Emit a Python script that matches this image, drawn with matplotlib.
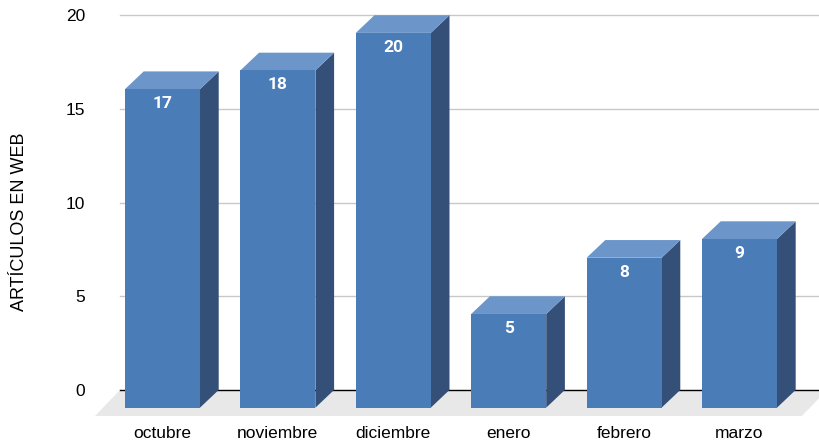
import matplotlib
matplotlib.use("Agg")
import matplotlib.pyplot as plt

# data
meses = ['octubre', 'noviembre', 'diciembre', 'enero', 'febrero', 'marzo']
articulos = [17, 18, 20, 5, 8, 9]
yticks = [0, 5, 10, 15, 20]

# colours
c_front = '#4a7cb8'
c_top = '#6c96ca'
c_side = '#345078'
c_floor = '#e8e8e8'
c_grid = '#c8c8c8'

# fake 3d depth (in data units)
bw = 0.65          # bar width
dx = 0.162         # depth offset x
dy = 0.945         # depth offset y
floor_y = -1.39

plt.rcParams['font.family'] = ['Liberation Sans', 'DejaVu Sans']

fig = plt.figure(figsize=(8.19, 4.44), dpi=100)
ax = fig.add_axes([95 / 819, 28 / 444, 724 / 819, 415.8 / 444])
ax.set_xlim(-0.585, 5.689)
ax.set_ylim(floor_y, 20.8)

# floor
ax.fill([-0.585, 5.54, 5.76, -0.368], [floor_y, floor_y, 0, 0],
        color=c_floor, lw=0, zorder=1)

# grid lines
for t in yticks[1:]:
    ax.plot([-0.368, 5.689], [t, t], color=c_grid, lw=1, zorder=2)
ax.plot([-0.368, 5.689], [0, 0], color='black', lw=1, zorder=2)

# bars
for i, v in enumerate(articulos):
    x0 = i - bw / 2
    x1 = i + bw / 2
    y0 = -dy
    y1 = v - dy
    # side
    ax.fill([x1, x1 + dx, x1 + dx, x1], [y0, y0 + dy, y1 + dy, y1],
            color=c_side, lw=0, zorder=3)
    # top
    ax.fill([x0, x1, x1 + dx, x0 + dx], [y1, y1, y1 + dy, y1 + dy],
            color=c_top, lw=0, zorder=3)
    # front
    ax.fill([x0, x1, x1, x0], [y0, y0, y1, y1], color=c_front, lw=0, zorder=4)
    ax.annotate(str(v), (i, y1), xytext=(0, -10.5), textcoords='offset points',
                ha='center', va='center', color='white', fontsize=12.5,
                fontweight='bold', family=['Roboto', 'DejaVu Sans'], zorder=5)

for s in ax.spines.values():
    s.set_visible(False)
ax.set_xticks(range(len(meses)))
ax.set_xticklabels(meses, fontsize=12.5)
ax.set_yticks(yticks)
ax.set_yticklabels([str(t) for t in yticks], fontsize=12.5)
ax.tick_params(axis='both', length=0)
ax.tick_params(axis='x', pad=7)
ax.tick_params(axis='y', pad=7)

fig.text(20 / 819, 0.50, 'ARTÍCULOS EN WEB', rotation=90, ha='center',
         va='center', fontsize=13)

fig.savefig('out.png', dpi=100)
